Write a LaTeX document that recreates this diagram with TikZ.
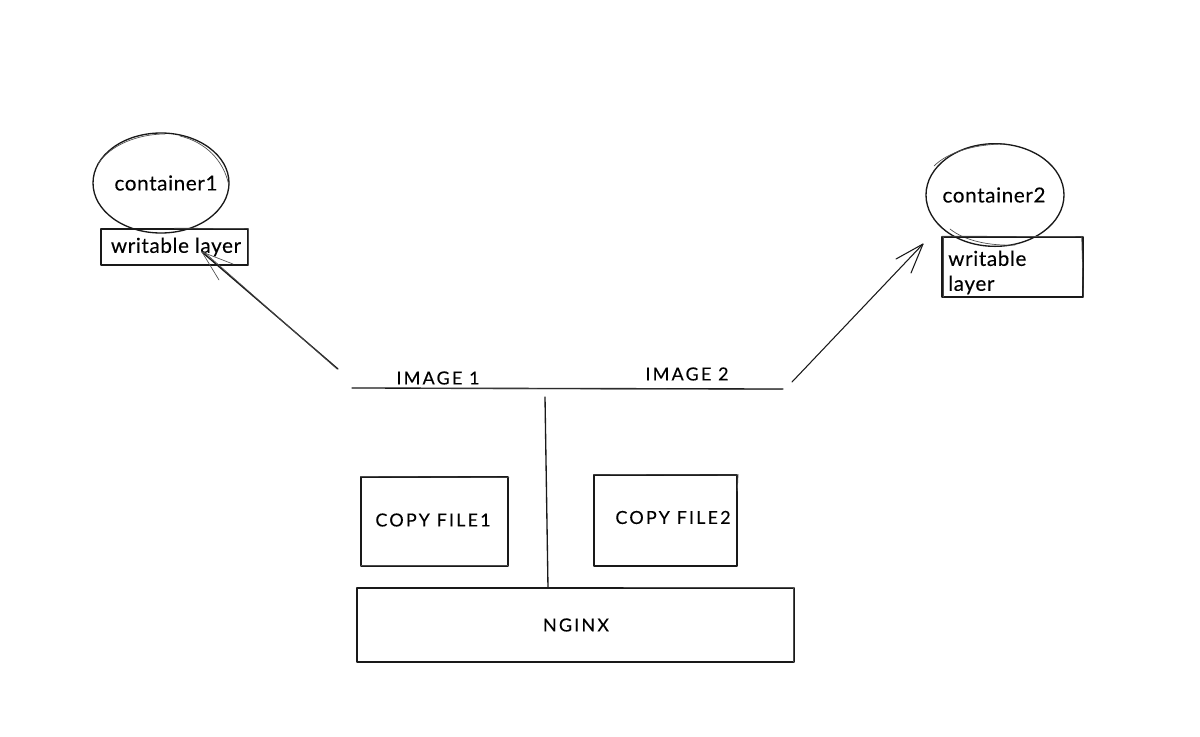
\documentclass[tikz,border=0pt]{standalone}
\usepackage{fontspec}
\setmainfont[LetterSpace=3,FakeBold=0.15]{Lato}
\newfontfamily\capsfont[LetterSpace=12,FakeBold=0.15]{Lato}
\usetikzlibrary{shapes.geometric}
\tikzset{
  x=0.75pt,y=-0.75pt,
  ink/.style={draw=black!90,line width=1pt,line cap=round,line join=round},
  thin ink/.style={draw=black!70,line width=0.5pt,line cap=round},
  hand/.style={font=\fontsize{15.5}{18}\selectfont,text=black,inner sep=0pt},
  handcaps/.style={font=\capsfont\fontsize{13.5}{15}\selectfont,text=black,inner sep=0pt},
  shapebox/.style={ink,rectangle,inner sep=0pt,outer sep=0pt},
  blob/.style={ink,ellipse,inner sep=0pt,outer sep=0pt},
}
\begin{document}
\begin{tikzpicture}
\useasboundingbox (0,0) rectangle (1200,736);
% containers
\node[blob,minimum width=102pt,minimum height=75pt] (c1) at (161,183) {};
\node[blob,minimum width=103.5pt,minimum height=77pt] (c2) at (995,195) {};
\draw[thin ink] (98,164) .. controls (110,145) and (138,134) .. (165,134);
\draw[thin ink] (180,136) .. controls (205,142) and (224,160) .. (229,186);
\draw[thin ink] (934,166) .. controls (948,152) and (975,144) .. (1005,144);
\draw[thin ink] (950,229) .. controls (965,241) and (990,246) .. (1015,245);
% writable layers
\node[shapebox,minimum width=110.25pt,minimum height=27pt] (w1) at (174.5,247) {};
\node[shapebox,minimum width=105.75pt,minimum height=45pt] (w2) at (1012.5,267) {};
\draw[thin ink] ([yshift=0.6pt]w1.north) -- ([yshift=0.3pt]w1.north east);
\draw[thin ink] ([xshift=0.6pt]w1.north east) -- ([xshift=0.6pt]w1.south east);
\draw[thin ink] ([yshift=0.6pt]w2.north west) -- ([yshift=0.3pt]w2.north east);
\draw[thin ink] ([xshift=-1pt,yshift=0.6pt]w2.north east) -- ([xshift=0.3pt]w2.south east);
\draw[thin ink] ([xshift=1pt]w2.north west) -- ([xshift=1pt]w2.south west);
\node[hand] (c1t) at (166,183) {container1};
\node[hand] (c2t) at (994,195) {container2};
\node[hand] (w1t) at (176,247) {writable layer};
\node[hand,anchor=west,align=left,font=\fontsize{15.5}{18.7}\selectfont] (w2t) at (948,272.5) {writable\\layer};
% image line and divider
\coordinate (il) at (352,388);
\coordinate (ir) at (783,389);
\draw[ink] (il) -- (ir);
\draw[thin ink] (420,388.6) -- (782,389.3);
\node[handcaps] (i1) at (438,378) {IMAGE 1};
\node[handcaps] (i2) at (687,374) {IMAGE 2};
% boxes
\node[shapebox,minimum width=110.25pt,minimum height=66.75pt] (f1) at (434.5,521.5) {};
\node[shapebox,minimum width=107.25pt,minimum height=68.25pt] (f2) at (665.5,520.5) {};
\node[shapebox,minimum width=327.75pt,minimum height=55.5pt] (ng) at (575.5,625) {};
\draw[thin ink] ([yshift=0.4pt]f1.north west) -- ([yshift=-0.3pt,xshift=0.7pt]f1.north east);
\draw[thin ink] ([yshift=0.5pt]f1.south west) -- ([yshift=0.5pt]f1.south east);
\draw[thin ink] ([xshift=0.8pt,yshift=0.5pt]f2.north east) -- ([xshift=0.2pt,yshift=-12pt]f2.north east);
\draw[thin ink] ([yshift=0.5pt]f2.north west) -- (f2.north east);
\draw[thin ink] ([xshift=200pt,yshift=0.4pt]ng.north west) -- ([yshift=0.4pt]ng.north east);
\draw[thin ink] ([xshift=-0.5pt]ng.north east) -- ([xshift=-0.5pt]ng.south east);
\node[handcaps] (f1t) at (433,520) {COPY FILE1};
\node[handcaps] (f2t) at (673,517.5) {COPY FILE2};
\node[handcaps] (ngt) at (576,625) {NGINX};
% divider, ends on top of NGINX
\coordinate (dt) at (545,397);
\draw[ink] (dt) -- (ng.north -| 548,588);
% arrows
\coordinate (a1s) at (338,369);
\coordinate (a1e) at (202,252);
\coordinate (a1p) at (219,280);
\coordinate (a1q) at (233,264);
\draw[ink] (a1s) -- (a1e);
\draw[thin ink] (337,369) -- (204,252);
\draw[thin ink] (a1p) -- (a1e) -- (a1q);
\coordinate (a2s) at (792,382);
\coordinate (a2e) at (923,244);
\coordinate (a2p) at (896,259);
\coordinate (a2q) at (911,273);
\draw[ink,line width=0.8pt] (a2s) -- (a2e);
\draw[ink,line width=0.8pt] (a2p) -- (a2e) -- (a2q);
\end{tikzpicture}
\end{document}
